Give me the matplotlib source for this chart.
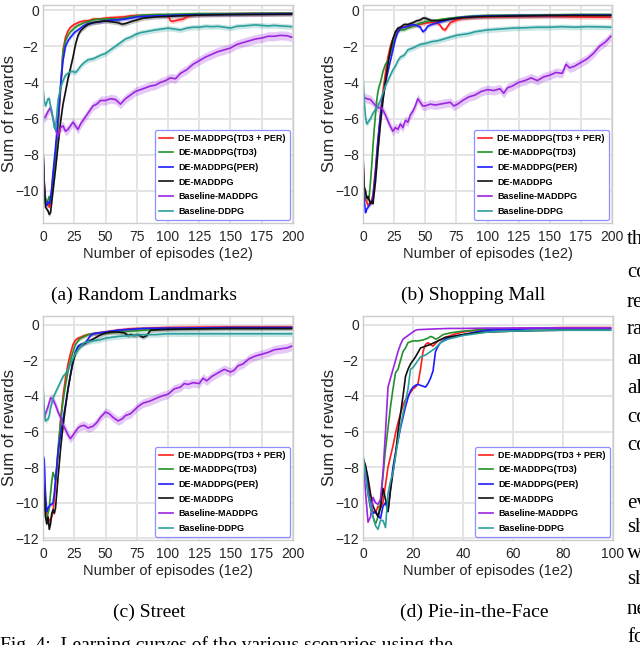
import matplotlib
matplotlib.use('Agg')
import matplotlib.pyplot as plt
import numpy as np

labels = ["DE-MADDPG(TD3 + PER)", "DE-MADDPG(TD3)", "DE-MADDPG(PER)",
          "DE-MADDPG", "Baseline-MADDPG", "Baseline-DDPG"]
colors = ["#ff1c1c", "#23912a", "#1c1cff", "#111111", "#9b25e0", "#2b9f9c"]
band = [0.12, 0.1, 0.1, 0.12, 0.25, 0.15]

# ---- (a) Random Landmarks
a_red_x = [0,1,2,3,4,5,6,7,8,10,12,14,16,18,20,22,25,28,30,33,36,40,45,50,55,60,65,70,75,80,90,100,102,104,108,112,116,120,125,140,160,180,199]
a_red_y = [-7.8,-9.5,-10.6,-10.8,-10.7,-10.9,-10.6,-10.0,-9.2,-8.0,-6.5,-4.5,-2.2,-1.5,-1.15,-0.95,-0.8,-0.7,-0.65,-0.6,-0.6,-0.5,-0.5,-0.45,-0.42,-0.4,-0.38,-0.32,-0.3,-0.3,-0.28,-0.3,-0.6,-0.62,-0.55,-0.5,-0.35,-0.28,-0.25,-0.22,-0.2,-0.2,-0.2]
a_green_x = [0,1,2,3,4,5,6,7,8,10,12,14,16,18,20,22,25,28,30,33,36,40,45,50,55,60,65,70,75,80,90,100,110,125,150,175,199]
a_green_y = [-8.0,-9.8,-10.4,-10.6,-10.5,-10.3,-10.6,-10.2,-9.5,-8.0,-6.3,-4.3,-2.3,-1.7,-1.4,-1.2,-1.0,-0.85,-0.8,-0.7,-0.65,-0.55,-0.5,-0.5,-0.48,-0.5,-0.45,-0.38,-0.32,-0.28,-0.25,-0.24,-0.22,-0.2,-0.2,-0.18,-0.18]
a_blue_x = [0,1,2,3,4,5,6,7,8,10,12,14,16,18,20,22,25,28,30,33,36,40,45,50,55,60,65,70,75,80,90,100,110,125,150,175,199]
a_blue_y = [-7.6,-9.6,-10.7,-10.8,-10.6,-10.7,-10.4,-9.8,-9.0,-7.6,-6.0,-4.2,-2.8,-2.0,-1.7,-1.5,-1.25,-1.1,-1.0,-0.85,-0.75,-0.7,-0.65,-0.6,-0.55,-0.55,-0.5,-0.45,-0.38,-0.35,-0.32,-0.3,-0.28,-0.25,-0.24,-0.22,-0.2]
a_black_x = [0,1,2,3,4,5,6,7,8,10,12,14,16,18,20,22,24,26,28,30,33,36,40,45,50,55,60,63,66,70,75,80,90,100,110,125,150,175,199]
a_black_y = [-7.7,-9.8,-10.9,-11.0,-11.1,-11.3,-11.2,-10.6,-10.0,-8.8,-7.5,-6.2,-5.2,-4.5,-3.8,-3.2,-2.6,-1.9,-1.4,-1.15,-0.95,-0.8,-0.7,-0.65,-0.6,-0.65,-0.7,-0.78,-0.75,-0.65,-0.55,-0.45,-0.38,-0.35,-0.32,-0.28,-0.25,-0.24,-0.22]
a_purple_x = [0,2,4,6,8,10,12,14,16,18,20,22,24,26,28,30,33,36,40,43,46,50,54,58,62,66,70,74,78,82,86,90,94,98,102,106,110,115,120,125,130,135,140,145,150,155,160,165,170,175,180,185,190,195,199]
a_purple_y = [-6.0,-5.9,-5.6,-5.4,-6.0,-6.6,-7.0,-6.5,-6.4,-6.7,-6.6,-6.4,-6.2,-6.4,-6.6,-6.3,-6.0,-5.7,-5.3,-5.2,-5.0,-5.0,-4.9,-4.95,-5.2,-4.9,-4.7,-4.5,-4.4,-4.3,-4.2,-4.15,-4.0,-3.9,-3.75,-3.8,-3.5,-3.3,-3.0,-2.8,-2.6,-2.45,-2.3,-2.2,-2.1,-1.9,-1.8,-1.7,-1.6,-1.55,-1.45,-1.45,-1.4,-1.42,-1.5]
a_teal_x = [0,1,2,3,4,5,6,7,8,9,10,11,12,14,16,18,20,22,24,26,28,30,33,36,40,43,46,50,54,58,62,66,70,74,78,82,86,90,95,100,105,110,115,120,125,130,135,140,145,150,155,160,165,170,175,180,185,190,195,199]
a_teal_y = [-4.3,-5.0,-5.3,-5.1,-4.9,-4.9,-5.3,-5.6,-6.0,-6.5,-6.6,-5.8,-5.0,-4.3,-3.9,-3.6,-3.5,-3.4,-3.4,-3.45,-3.3,-3.1,-2.9,-2.75,-2.7,-2.6,-2.5,-2.4,-2.2,-2.0,-1.8,-1.6,-1.5,-1.35,-1.25,-1.2,-1.15,-1.1,-1.05,-1.0,-1.05,-1.1,-1.0,-0.95,-0.95,-0.9,-0.92,-0.9,-0.95,-1.0,-0.9,-0.88,-0.85,-0.82,-0.85,-0.88,-0.85,-0.88,-0.9,-0.92]

# ---- (b) Shopping Mall
b_red_x = [0,1,2,3,4,5,6,7,8,10,12,14,16,18,20,22,24,26,28,30,33,36,40,45,50,55,60,62,64,66,68,70,75,80,90,100,125,150,175,199]
b_red_y = [-8.2,-9.8,-10.5,-10.6,-10.8,-10.7,-10.6,-10.5,-10.2,-8.8,-7.2,-5.8,-4.5,-3.5,-2.6,-2.0,-1.6,-1.3,-1.1,-1.0,-0.95,-0.9,-0.88,-0.8,-0.72,-0.68,-0.72,-0.85,-1.05,-1.1,-0.9,-0.7,-0.55,-0.45,-0.4,-0.38,-0.36,-0.35,-0.38,-0.4]
b_green_x = [0,1,2,3,4,5,6,7,8,9,10,11,12,13,14,16,18,20,22,24,26,28,30,33,36,40,45,50,55,60,70,80,90,100,125,150,175,199]
b_green_y = [-9.0,-10.0,-10.3,-10.4,-10.5,-10.3,-9.5,-8.6,-7.5,-6.6,-5.8,-5.0,-4.5,-4.2,-4.0,-3.4,-3.0,-2.8,-2.4,-1.9,-1.5,-1.2,-1.1,-1.1,-1.0,-0.9,-0.75,-0.65,-0.6,-0.55,-0.45,-0.38,-0.32,-0.3,-0.28,-0.27,-0.25,-0.25]
b_blue_x = [0,1,2,3,4,5,6,7,8,10,12,14,16,18,20,22,24,26,28,30,33,36,40,43,46,48,50,52,55,60,65,70,80,90,100,125,150,175,199]
b_blue_y = [-9.5,-10.5,-11.2,-11.0,-10.9,-10.8,-10.7,-10.6,-10.4,-9.0,-7.2,-5.8,-4.8,-4.0,-3.4,-2.8,-2.2,-1.6,-1.2,-1.0,-0.95,-0.9,-0.8,-0.85,-0.95,-1.2,-1.1,-0.9,-0.8,-0.7,-0.6,-0.5,-0.4,-0.35,-0.33,-0.3,-0.3,-0.28,-0.28]
b_black_x = [0,1,2,3,4,5,6,7,8,10,12,14,16,18,20,22,24,26,28,30,33,36,40,43,46,48,50,52,55,60,65,70,80,90,100,125,150,175,199]
b_black_y = [-8.0,-9.8,-10.0,-10.4,-10.3,-10.5,-10.7,-10.6,-10.7,-9.5,-7.8,-6.3,-5.0,-4.0,-3.0,-2.2,-1.6,-1.2,-1.0,-0.95,-0.8,-0.8,-0.7,-0.6,-0.55,-0.45,-0.45,-0.5,-0.58,-0.6,-0.55,-0.5,-0.42,-0.38,-0.35,-0.33,-0.3,-0.3,-0.3]
b_purple_x = [0,3,6,9,12,15,18,21,24,26,28,30,32,34,36,38,40,42,44,46,48,50,54,58,62,66,70,73,76,80,85,90,95,100,105,110,113,116,120,125,130,135,140,145,150,155,160,163,166,170,175,180,185,190,195,199]
b_purple_y = [-4.8,-4.9,-4.95,-5.2,-5.4,-5.4,-5.8,-6.3,-6.7,-6.5,-6.6,-6.3,-6.5,-6.1,-6.2,-5.8,-5.6,-5.3,-4.9,-5.1,-5.3,-5.3,-5.2,-5.25,-5.2,-5.15,-5.1,-5.3,-5.2,-5.0,-4.8,-4.7,-4.5,-4.4,-4.45,-4.35,-4.6,-4.3,-4.2,-4.0,-3.9,-3.75,-3.9,-3.7,-3.6,-3.45,-3.5,-3.0,-3.2,-3.1,-2.9,-2.7,-2.4,-2.0,-1.75,-1.45]
b_teal_x = [0,1,2,3,4,5,6,8,10,12,14,16,18,20,22,24,26,28,30,33,36,40,43,46,50,55,60,65,70,75,80,85,90,95,100,110,120,130,140,150,160,170,180,190,199]
b_teal_y = [-3.6,-5.0,-5.9,-6.3,-6.2,-6.1,-6.0,-5.7,-5.5,-5.3,-5.0,-4.6,-4.2,-3.9,-3.6,-3.3,-3.1,-2.8,-2.6,-2.5,-2.2,-2.1,-2.0,-1.9,-1.85,-1.75,-1.7,-1.6,-1.5,-1.4,-1.35,-1.3,-1.2,-1.15,-1.1,-1.05,-1.0,-0.98,-0.95,-0.95,-0.92,-0.95,-0.92,-0.93,-0.95]

# ---- (c) Street
c_red_x = [0,1,2,3,4,5,6,7,8,10,12,14,16,18,20,22,24,26,28,30,33,36,40,45,50,60,70,80,100,125,150,175,199]
c_red_y = [-8.5,-9.5,-10.3,-10.6,-11.0,-11.0,-10.9,-10.8,-10.5,-9.0,-7.2,-5.4,-4.0,-3.0,-2.2,-1.6,-1.1,-0.85,-0.75,-0.7,-0.6,-0.55,-0.5,-0.45,-0.4,-0.3,-0.22,-0.2,-0.15,-0.13,-0.12,-0.12,-0.12]
c_green_x = [0,1,2,3,4,5,6,7,8,9,10,11,12,14,16,18,20,22,24,26,28,30,33,36,40,45,50,60,70,80,90,100,125,150,175,199]
c_green_y = [-8.0,-9.5,-10.8,-11.0,-10.6,-10.3,-9.5,-8.8,-8.3,-8.5,-8.7,-8.0,-7.0,-5.5,-4.3,-3.4,-2.6,-2.0,-1.5,-1.1,-0.9,-0.75,-0.65,-0.55,-0.5,-0.45,-0.45,-0.4,-0.35,-0.3,-0.25,-0.22,-0.2,-0.18,-0.18,-0.17]
c_blue_x = [0,1,2,3,4,5,6,7,8,9,10,12,14,16,18,20,22,24,26,28,30,32,34,36,38,40,45,50,60,70,80,100,125,150,175,199]
c_blue_y = [-7.3,-7.6,-9.5,-10.5,-10.3,-10.2,-10.1,-10.1,-10.0,-9.5,-8.7,-7.2,-6.2,-5.3,-4.5,-3.6,-2.8,-2.0,-1.5,-1.2,-1.1,-1.05,-1.0,-0.8,-0.6,-0.5,-0.45,-0.4,-0.3,-0.25,-0.2,-0.18,-0.17,-0.15,-0.15,-0.15]
c_black_x = [0,1,2,3,4,5,6,7,8,9,10,12,14,16,18,20,22,24,26,28,30,33,36,40,45,50,55,60,65,68,70,73,76,80,83,86,90,100,125,150,175,199]
c_black_y = [-8.7,-9.5,-10.8,-11.2,-10.8,-11.5,-11.2,-10.6,-10.4,-10.6,-10.3,-8.6,-7.0,-5.7,-4.6,-3.6,-2.8,-2.1,-1.6,-1.35,-1.2,-1.05,-0.95,-0.8,-0.6,-0.45,-0.4,-0.4,-0.45,-0.6,-0.55,-0.6,-0.55,-0.7,-0.6,-0.3,-0.28,-0.25,-0.22,-0.2,-0.2,-0.2]
c_purple_x = [0,2,4,6,8,10,12,14,16,18,20,22,24,26,28,30,33,36,40,43,46,50,53,56,60,63,66,70,73,76,80,85,90,95,100,105,110,113,116,120,125,128,131,135,140,145,150,153,156,160,165,170,175,180,185,190,195,199]
c_purple_y = [-5.3,-5.0,-4.6,-4.1,-4.2,-4.5,-4.9,-5.2,-5.6,-5.9,-6.2,-6.4,-6.2,-6.0,-5.8,-5.7,-5.65,-5.8,-5.7,-5.5,-5.2,-4.9,-5.0,-5.2,-5.4,-5.3,-5.1,-5.0,-4.8,-4.6,-4.4,-4.3,-4.15,-4.0,-3.9,-3.6,-3.5,-3.3,-3.35,-3.25,-3.3,-3.0,-3.15,-2.9,-2.7,-2.5,-2.65,-2.55,-2.3,-2.2,-1.9,-1.75,-1.65,-1.55,-1.4,-1.35,-1.3,-1.2]
c_teal_x = [0,1,2,3,4,5,6,7,8,10,12,14,16,18,20,22,24,26,28,30,33,36,40,45,50,55,60,70,80,90,100,125,150,175,199]
c_teal_y = [-3.3,-4.8,-5.4,-5.35,-5.3,-5.1,-4.7,-4.4,-4.1,-3.8,-3.5,-3.2,-2.9,-2.75,-2.5,-2.2,-1.9,-1.6,-1.4,-1.2,-1.0,-0.95,-0.9,-0.85,-0.75,-0.7,-0.65,-0.6,-0.55,-0.55,-0.5,-0.5,-0.5,-0.5,-0.5]

# ---- (d) Pie-in-the-Face
d_red_x = [0,1,2,3,4,5,6,7,8,9,10,11,12,13,14,15,16,17,18,19,20,21,22,23,24,25,26,27,28,30,33,36,40,45,50,60,70,80,90,99]
d_red_y = [-7.5,-8.0,-9.0,-10.2,-10.5,-10.6,-10.2,-10.3,-10.0,-9.0,-8.0,-7.4,-6.8,-6.1,-5.5,-5.0,-4.5,-4.2,-4.0,-3.8,-3.6,-3.5,-3.3,-2.5,-1.5,-1.1,-1.0,-1.1,-1.2,-0.9,-0.7,-0.55,-0.4,-0.3,-0.25,-0.2,-0.18,-0.15,-0.15,-0.15]
d_green_x = [0,1,2,3,4,5,6,7,8,9,10,11,12,13,14,15,16,17,18,20,22,24,26,27,28,29,30,32,35,40,45,50,60,70,80,90,99]
d_green_y = [-7.5,-8.2,-9.5,-10.3,-10.8,-11.2,-10.8,-10.0,-8.5,-7.0,-5.8,-4.6,-3.6,-2.7,-2.5,-2.0,-1.5,-1.3,-1.0,-0.9,-0.9,-0.85,-0.75,-0.65,-0.7,-0.8,-0.75,-0.55,-0.45,-0.35,-0.3,-0.25,-0.22,-0.2,-0.2,-0.2,-0.2]
d_blue_x = [0,1,2,3,4,5,6,7,8,9,10,11,12,13,14,15,16,17,18,19,20,21,22,23,24,25,26,27,28,29,30,31,33,36,40,45,50,60,70,80,90,99]
d_blue_y = [-7.5,-8.2,-9.3,-10.2,-10.6,-10.5,-10.7,-10.9,-10.2,-10.0,-10.5,-9.2,-8.0,-7.2,-6.5,-5.8,-5.2,-4.6,-4.1,-3.7,-3.5,-3.4,-3.35,-3.4,-3.45,-3.5,-3.3,-3.0,-2.6,-1.5,-1.2,-1.0,-0.8,-0.65,-0.55,-0.4,-0.3,-0.25,-0.2,-0.2,-0.2,-0.2]
d_black_x = [0,1,2,3,4,5,6,7,8,9,10,11,12,13,14,15,16,17,18,19,20,21,22,23,25,27,30,33,36,40,45,50,60,70,80,90,99]
d_black_y = [-7.5,-7.9,-8.6,-9.5,-10.2,-10.5,-10.8,-10.3,-9.2,-9.8,-10.5,-9.3,-8.3,-7.3,-6.0,-5.0,-4.0,-2.9,-2.5,-2.2,-2.0,-1.8,-1.55,-1.3,-1.2,-1.1,-0.9,-0.7,-0.65,-0.55,-0.45,-0.4,-0.35,-0.32,-0.3,-0.3,-0.3]
d_purple_x = [0,1,2,3,4,5,6,7,8,9,10,11,12,13,14,15,16,17,18,19,20,21,22,25,30,35,40,50,60,70,80,90,99]
d_purple_y = [-7.5,-9.4,-11.1,-10.8,-9.7,-10.0,-10.1,-9.8,-8.3,-6.0,-3.5,-3.0,-2.5,-2.0,-1.5,-1.1,-0.8,-0.7,-0.6,-0.5,-0.4,-0.3,-0.27,-0.25,-0.22,-0.2,-0.2,-0.18,-0.18,-0.17,-0.17,-0.17,-0.17]
d_teal_x = [0,1,2,3,4,5,6,7,8,9,10,11,12,13,14,15,16,17,18,19,20,21,22,23,25,27,28,29,31,34,37,40,45,50,60,70,80,90,99]
d_teal_y = [-7.3,-8.4,-9.5,-10.2,-10.8,-11.3,-11.5,-11.0,-11.0,-11.4,-9.5,-8.8,-8.3,-7.4,-6.5,-5.7,-5.0,-4.3,-3.6,-2.5,-2.4,-2.2,-2.0,-1.8,-1.7,-1.5,-1.4,-1.3,-1.0,-0.8,-0.7,-0.6,-0.5,-0.4,-0.35,-0.32,-0.3,-0.3,-0.3]

captions = ["(a) Random Landmarks", "(b) Shopping Mall", "(c) Street", "(d) Pie-in-the-Face"]

plt.rcParams['font.family'] = ['Liberation Sans', 'DejaVu Sans']

fig = plt.figure(figsize=(6.4, 6.45), dpi=100)

panels = [
  dict(pos=[0.0672, 0.6543, 0.3906, 0.3380], ylim=(-11.77, 0.28), xmax=200, xstep=25, ymin_tick=-10, shade=True,
       xs=[a_red_x, a_green_x, a_blue_x, a_black_x, a_purple_x, a_teal_x],
       ys=[a_red_y, a_green_y, a_blue_y, a_black_y, a_purple_y, a_teal_y]),
  dict(pos=[0.5672, 0.6543, 0.3891, 0.3380], ylim=(-11.77, 0.28), xmax=200, xstep=25, ymin_tick=-10, shade=True,
       xs=[b_red_x, b_green_x, b_blue_x, b_black_x, b_purple_x, b_teal_x],
       ys=[b_red_y, b_green_y, b_blue_y, b_black_y, b_purple_y, b_teal_y]),
  dict(pos=[0.0672, 0.1628, 0.3906, 0.3473], ylim=(-12.1, 0.5), xmax=200, xstep=25, ymin_tick=-12, shade=True,
       xs=[c_red_x, c_green_x, c_blue_x, c_black_x, c_purple_x, c_teal_x],
       ys=[c_red_y, c_green_y, c_blue_y, c_black_y, c_purple_y, c_teal_y]),
  dict(pos=[0.5672, 0.1628, 0.3906, 0.3473], ylim=(-12.1, 0.5), xmax=100, xstep=20, ymin_tick=-12, shade=False,
       xs=[d_red_x, d_green_x, d_blue_x, d_black_x, d_purple_x, d_teal_x],
       ys=[d_red_y, d_green_y, d_blue_y, d_black_y, d_purple_y, d_teal_y]),
]

for p in panels:
  ax = fig.add_axes(p["pos"])
  ax.set_axisbelow(True)
  ax.grid(True, color="#e4e4e4", lw=1.4)
  for s in ax.spines.values():
    s.set_color("#cccccc")
    s.set_linewidth(1.0)
  for i in range(6):
    x = np.array(p["xs"][i])
    y = np.array(p["ys"][i])
    if p["shade"]:
      ax.fill_between(x, y - band[i], y + band[i], color=colors[i], alpha=0.25, lw=0)
    ax.plot(x, y, color=colors[i], lw=1.2, label=labels[i])
  ax.set_xlim(0, p["xmax"])
  ax.set_ylim(*p["ylim"])
  ax.set_xticks(range(0, p["xmax"] + 1, p["xstep"]))
  ax.set_yticks(range(p["ymin_tick"], 1, 2))
  ax.tick_params(length=0, labelsize=10, colors="#262626")
  ax.tick_params(axis="x", pad=5)
  ax.tick_params(axis="y", pad=3)
  ax.set_xlabel("Number of episodes (1e2)", fontsize=10.5, color="#262626", labelpad=2)
  ax.set_ylabel("Sum of rewards", fontsize=12, color="#262626")
  ax.yaxis.set_label_coords(-0.105, 0.5)
  leg = ax.legend(loc="lower right", prop={"size": 6.5, "weight": "bold"}, frameon=True,
                  fancybox=True, framealpha=1, edgecolor="#8f8fff", borderaxespad=0.35,
                  handlelength=1.5, handletextpad=0.6, labelspacing=0.62, borderpad=0.45)
  leg.get_frame().set_linewidth(0.9)

serif = ["Liberation Serif", "DejaVu Serif"]
fig.text(144 / 640, 1 - 295 / 645, captions[0], ha="center", va="center", fontsize=14, family=serif)
fig.text(473 / 640, 1 - 295 / 645, captions[1], ha="center", va="center", fontsize=14, family=serif)
fig.text(149 / 640, 1 - 612 / 645, captions[2], ha="center", va="center", fontsize=14, family=serif)
fig.text(474 / 640, 1 - 612 / 645, captions[3], ha="center", va="center", fontsize=14, family=serif)

# cut-off body text of the page around the figure
side = ["th", "co", "re", "ra", "an", "al", "co", "co", "ev", "sh", "wi", "sh", "ne", "fo"]
side_y = [240, 273, 302, 330, 360, 388, 417, 445, 503, 528, 553, 580, 610, 638]
for t, yy in zip(side, side_y):
  fig.text(627 / 640, 1 - yy / 645, t, ha="left", va="center", fontsize=15, family=serif)
fig.text(0.0, 0.0, "Fig. 4:  Learning curves of the various scenarios using the",
         ha="left", va="center", fontsize=14, family=serif)

plt.savefig("out.png", dpi=100)
